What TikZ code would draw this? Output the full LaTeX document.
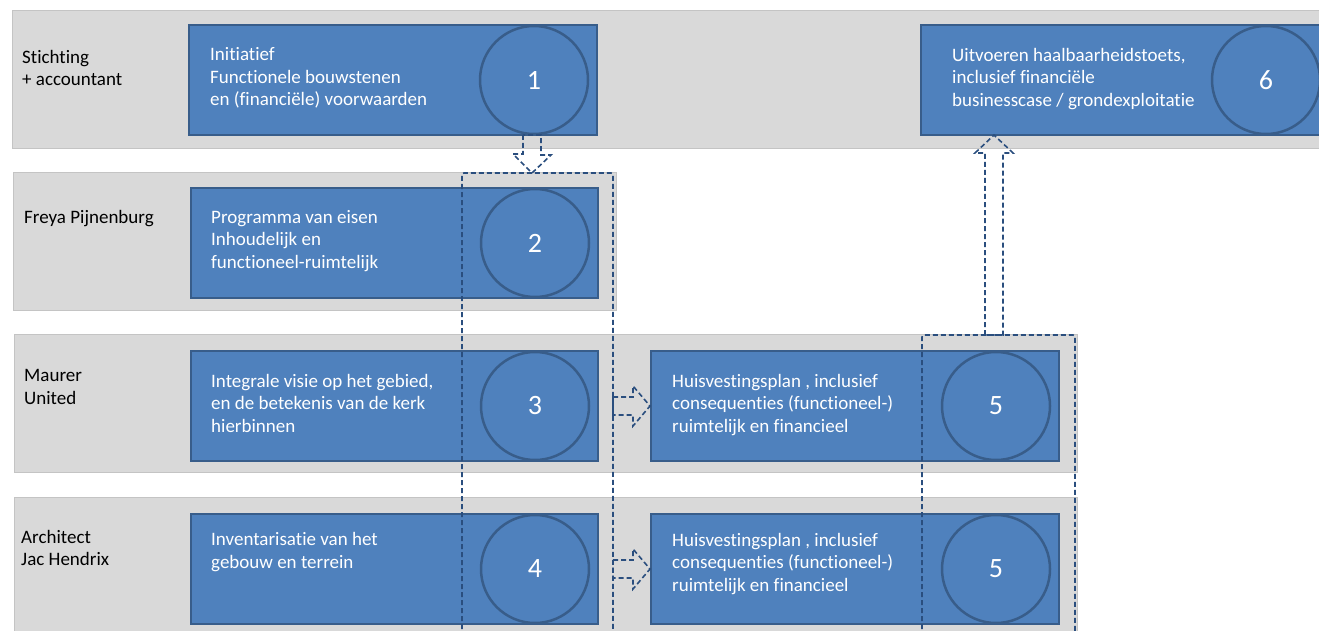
\documentclass[tikz,border=0pt]{standalone}
\usepackage{fontspec}
\setmainfont{Carlito}[Ligatures={NoCommon,NoContextual}]
\usetikzlibrary{calc}
\definecolor{lanegray}{HTML}{D9D9D9}
\definecolor{laneline}{HTML}{C4C4C4}
\definecolor{boxblue}{HTML}{4F81BD}
\definecolor{boxline}{HTML}{385D8A}
\definecolor{dashblue}{HTML}{2A4E7E}
\begin{document}
\begin{tikzpicture}[x=1pt,y=-1pt,
 lane/.style={draw=laneline, line width=0.6pt, fill=lanegray, anchor=north west, inner sep=0},
 box/.style={draw=boxline, line width=2pt, fill=boxblue, anchor=north west, inner sep=0, minimum height=110pt},
 num/.style={circle, draw=boxline, line width=2.5pt, minimum size=108pt, inner sep=0, text=white, font=\fontsize{28}{30}\selectfont},
 txt/.style={anchor=west, align=left, inner sep=0, text=white, font=\fontsize{19}{22.5}\selectfont},
 lbl/.style={anchor=west, align=left, inner sep=0, text=black, font=\fontsize{19}{22.5}\selectfont},
 dashln/.style={draw=dashblue, line width=1.6pt, dash pattern=on 5pt off 3pt},
]
\useasboundingbox (0,0) rectangle (1319,631);
\clip (0,0) rectangle (1319,631);
% lanes
\node[lane, minimum width=1330pt, minimum height=138pt] (lane1) at (12,10) {};
\node[lane, minimum width=603pt, minimum height=138pt] (lane2) at (13,172) {};
\node[lane, minimum width=1063pt, minimum height=138pt] (lane3) at (14,334) {};
\node[lane, minimum width=1063pt, minimum height=150pt] (lane4) at (14,497) {};
% lane labels
\node[lbl] (l1) at (22,68) {Stichting\\+ accountant};
\node[lbl] (l2) at (24,219) {Freya Pijnenburg};
\node[lbl] (l3) at (24,387) {Maurer\\United};
\node[lbl] (l4) at (21,548) {Architect\\Jac Hendrix};
% boxes
\node[box, minimum width=408pt] (b1) at (188,24) {};
\node[box, minimum width=407pt] (b2) at (190,187) {};
\node[box, minimum width=407pt] (b3) at (190,350) {};
\node[box, minimum width=407pt] (b4) at (190,513) {};
\node[box, minimum width=408pt] (b5a) at (650,350) {};
\node[box, minimum width=408pt] (b5b) at (650,513) {};
\node[box, minimum width=408pt] (b6) at (920,24) {};
% circles
\node[num] (c1) at ($(b1.east)+(-64,0)$) {1};
\node[num] (c2) at ($(b2.east)+(-64,0)$) {2};
\node[num] (c3) at ($(b3.east)+(-64,0)$) {3};
\node[num] (c4) at ($(b4.east)+(-64,0)$) {4};
\node[num] (c5a) at ($(b5a.east)+(-64,0)$) {5};
\node[num] (c5b) at ($(b5b.east)+(-64,0)$) {5};
\node[num] (c6) at ($(b6.east)+(-64,0)$) {6};
% texts
\node[txt] (t1) at (210,78) {Initiatief\\Functionele bouwstenen\\en (financiële) voorwaarden};
\node[txt] (t2) at (211,241) {Programma van eisen\\Inhoudelijk en\\functioneel-ruimtelijk};
\node[txt] (t3) at (211,403) {Integrale visie op het gebied,\\en de betekenis van de kerk\\hierbinnen};
\node[txt] (t4) at (211,552) {Inventarisatie van het\\gebouw en terrein};
\node[txt] (t5a) at (672,405) {Huisvestingsplan , inclusief\\consequenties (functioneel-)\\ruimtelijk en financieel};
\node[txt] (t5b) at (672,564) {Huisvestingsplan , inclusief\\consequenties (functioneel-)\\ruimtelijk en financieel};
\node[txt] (t6) at (952,79) {Uitvoeren haalbaarheidstoets,\\inclusief financiële\\businesscase / grondexploitatie};
% dashed groups
\coordinate (b1out) at (532,135);
\coordinate (g1top) at (532,173);
\coordinate (g2top) at (994,335);
\coordinate (t6in) at (994,135);
\draw[dashln, rounded corners=2pt] (462,645) -- (462,173) -- (613,173) -- (613,645);
\draw[dashln, rounded corners=2pt] (922,645) -- (922,335) -- (1075,335) -- (1075,645);
% block arrows
\draw[dashln, line join=miter] ($(b1out)+(-9,0)$) -- ++(0,19) -- ++(-10,0) -- (g1top)
  -- ($(g1top)+(19,-18)$) -- ++(-10,0) -- ($(b1out)+(9,0)$) -- cycle;
\draw[dashln, line join=miter] ($(g2top)+(-9,0)$) -- ($(t6in)+(-9,18)$) -- ++(-10,0) -- (t6in)
  -- ($(t6in)+(19,18)$) -- ++(-10,0) -- ($(g2top)+(9,0)$) -- cycle;
\draw[dashln, line join=miter] ($(b5a.west)+(-37,-9)$) -- ++(20,0) -- ++(0,-11) -- (b5a.west)
  -- ($(b5a.west)+(-17,20)$) -- ++(0,-11) -- ++(-20,0) -- cycle;
\draw[dashln, line join=miter] ($(b5b.west)+(-37,-9)$) -- ++(20,0) -- ++(0,-11) -- (b5b.west)
  -- ($(b5b.west)+(-17,20)$) -- ++(0,-11) -- ++(-20,0) -- cycle;
\end{tikzpicture}
\end{document}
